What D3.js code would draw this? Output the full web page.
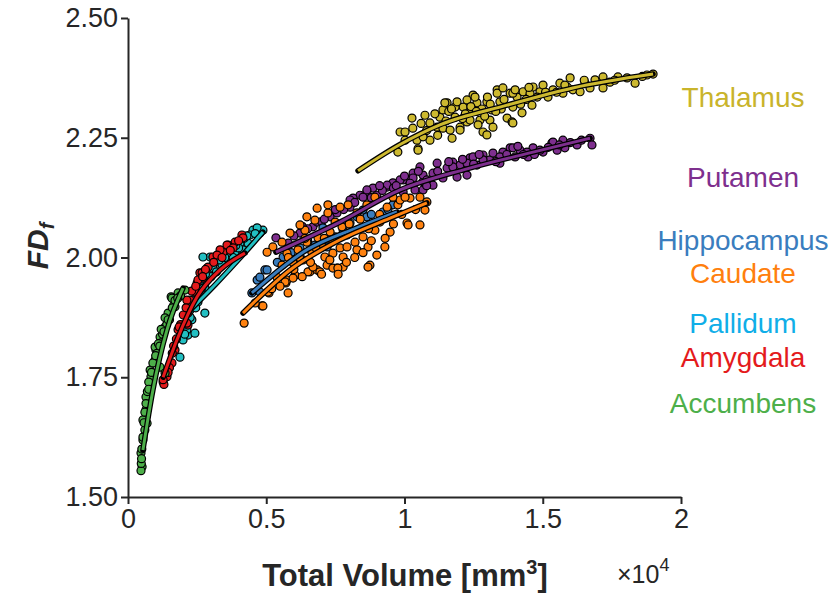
<!DOCTYPE html>
<html>
<head>
<meta charset="utf-8">
<script src="https://cdn.jsdelivr.net/npm/d3@7"></script>
<style>
  body { margin: 0; background: #fff; }
  text { font-family: "Liberation Sans", Arial, Helvetica, sans-serif; }
</style>
</head>
<body>
<svg id="chart" width="837" height="594"></svg>
<script>
// x in units of 10^4 mm^3, y = FD_f
const xTicks = [0, 0.5, 1, 1.5, 2];
const yTicks = [1.5, 1.75, 2.0, 2.25, 2.5];

const thalamusPts = [
  [1.027,2.291],[0.984,2.262],[1.002,2.262],[0.976,2.220],[1.049,2.227],[1.045,2.245],[1.067,2.256],
  [1.074,2.297],[1.092,2.245],[1.118,2.272],[1.128,2.293],[1.139,2.308],[1.154,2.323],[1.172,2.249],
  [1.183,2.293],[1.201,2.272],[1.212,2.314],[1.226,2.283],[1.237,2.302],[1.248,2.339],[1.262,2.323],
  [1.273,2.287],[1.284,2.262],[1.298,2.256],[1.309,2.287],[1.316,2.308],[1.320,2.272],[1.335,2.350],
  [1.345,2.325],[1.371,2.291],[1.382,2.343],[1.389,2.283],[1.392,2.314],[1.407,2.335],[1.425,2.302],
  [1.429,2.346],[1.454,2.343],[1.461,2.318],[1.465,2.356],[1.490,2.346],[1.501,2.360],[1.519,2.335],
  [1.537,2.350],[1.562,2.364],[1.573,2.343],[1.599,2.375],[1.609,2.350],[1.635,2.346],[1.653,2.364],
  [1.671,2.354],[1.689,2.371],[1.718,2.377],[1.718,2.354],[1.743,2.366],[1.772,2.377],[1.805,2.375],
  [1.834,2.364],[1.877,2.381],[1.899,2.383],
  [1.002,2.245],[1.049,2.224],[1.067,2.252],[1.092,2.281],[1.139,2.270],[1.146,2.323],[1.165,2.266],
  [1.183,2.314],[1.201,2.266],[1.226,2.329],[1.237,2.287],[1.255,2.335],[1.266,2.277],[1.298,2.325],
  [1.335,2.343],[1.356,2.354],[1.392,2.343],[1.392,2.281],
  [1.110,2.300],[1.160,2.305],[1.190,2.325],[1.220,2.300],[1.280,2.310],[1.300,2.335],[1.350,2.310],
  [1.420,2.320],[1.440,2.330],[1.480,2.335],[1.550,2.345],[1.590,2.355],
  [1.030,2.270],[1.060,2.280],[1.080,2.265],[1.120,2.255],[1.150,2.285],[1.170,2.310],[1.210,2.290],
  [1.240,2.315],[1.260,2.305],[1.290,2.295],[1.310,2.320],[1.330,2.305],[1.360,2.330],[1.400,2.350],
  [1.450,2.355],[1.510,2.345],[1.580,2.360],[1.650,2.370],[1.760,2.370],[1.860,2.378]
];
const putamenPts = [
  [1.118,2.197],[1.154,2.187],[1.175,2.199],[1.201,2.193],[1.226,2.172],[1.237,2.208],[1.262,2.193],
  [1.284,2.214],[1.309,2.204],[1.320,2.218],[1.345,2.197],[1.356,2.220],[1.382,2.229],[1.400,2.210],
  [1.418,2.224],[1.447,2.210],[1.465,2.229],[1.501,2.220],[1.533,2.239],[1.552,2.224],[1.573,2.245],
  [1.580,2.229],[1.624,2.235],[1.671,2.249],[1.678,2.235],[1.056,2.189],[1.031,2.176],[1.009,2.162],
  [1.067,2.158],[1.103,2.151],[1.139,2.166],[1.190,2.168],[0.995,2.137],[1.038,2.141],[1.067,2.141],
  [1.537,2.241],[1.490,2.224],[1.443,2.220],[1.392,2.229],[1.345,2.210],[1.284,2.204],[1.248,2.210],
  [1.226,2.197],[1.175,2.189],[1.103,2.176],[1.067,2.172],[1.031,2.166],[0.995,2.162],[0.958,2.156],
  [0.937,2.147],[0.886,2.145],[0.864,2.137],[0.839,2.130],[0.814,2.124],[0.803,2.120],
  [0.535,2.041],[0.622,2.051],[0.669,2.064],[0.731,2.085],[0.756,2.093],[0.803,2.105],[0.850,2.126],
  [0.864,2.141],[0.937,2.151],[0.984,2.162],[1.081,2.162],[0.684,2.074],
  [0.580,2.030],[0.650,2.060],[0.700,2.075],[0.780,2.100],[0.900,2.130],[0.920,2.140],[0.960,2.145],[1.020,2.155],
  [0.600,2.045],[0.630,2.065],[0.710,2.080],[0.750,2.100],[0.820,2.115],[0.880,2.125],[0.910,2.150],
  [0.970,2.150],[1.000,2.170],[1.050,2.180],[1.080,2.150],[1.120,2.180],[1.160,2.200],[1.210,2.205],
  [1.250,2.195],[1.270,2.215],[1.330,2.200],[1.370,2.215],[1.410,2.232],[1.430,2.215],[1.470,2.215],
  [1.520,2.230],[1.560,2.235],[1.600,2.240],[1.640,2.245]
];
const hippocampusPts = [
  [0.448,1.926],[0.467,1.953],[0.477,1.928],[0.477,1.959],[0.495,1.974],[0.503,1.974],[0.561,2.001],
  [0.622,2.020],[0.676,2.026],[0.720,2.022],[0.749,2.043],[0.778,2.057],[0.803,2.072],[0.828,2.085],
  [0.850,2.099],[0.792,2.047],[0.922,2.095],[0.958,2.110],[0.864,2.085],[0.705,2.062],
  [0.540,1.990],[0.590,2.010],[0.650,2.035],[0.690,2.040],[0.880,2.090],[0.940,2.100],[0.600,1.995]
];
const caudatePts = [
  [0.420,1.863],[0.485,1.899],[0.510,1.926],[0.579,1.926],[0.571,1.947],[0.539,1.959],[0.604,1.963],
  [0.557,1.984],[0.597,1.989],[0.633,1.995],[0.658,1.970],[0.684,1.974],[0.720,1.984],[0.756,1.978],
  [0.778,1.980],[0.712,2.001],[0.741,2.009],[0.767,2.020],[0.702,2.022],[0.665,2.011],[0.647,2.032],
  [0.687,2.041],[0.731,2.053],[0.615,2.016],[0.575,2.009],[0.640,2.057],[0.676,2.078],[0.723,2.093],
  [0.749,2.074],[0.774,2.064],[0.803,2.051],[0.821,2.032],[0.850,2.043],[0.868,2.022],[0.875,1.984],
  [0.929,2.022],[0.828,2.016],[0.792,2.022],[0.893,2.057],[0.911,2.074],[0.948,2.053],[0.937,2.105],
  [0.976,2.110],[0.984,2.120],[1.009,2.072],[1.056,2.068],[1.074,2.099],[1.081,2.116],[1.020,2.124],
  [0.958,2.126],[0.893,2.126],[0.864,2.110],[0.828,2.093],[0.796,2.110],[0.767,2.105],[0.723,2.110],
  [0.684,2.103],[0.647,2.085],[0.622,2.068],[0.586,2.051],[0.557,2.032],[0.524,2.022],[0.503,2.011],
  [0.506,1.928],[0.575,1.953],[0.488,1.899],[0.568,1.949],[0.597,1.957],[0.651,1.970],[0.694,1.970],
  [0.669,1.980],[0.741,1.978],[0.759,1.978],[0.778,2.001],[0.868,1.980],[1.013,2.068],[1.002,2.126],
  [1.056,2.126],
  [0.600,1.975],[0.630,1.960],[0.660,1.990],[0.700,1.965],[0.730,1.995],[0.760,1.965],[0.790,1.990],
  [0.820,2.000],[0.850,2.010],[0.880,2.035],[0.900,2.005],[0.930,2.040],[0.960,2.070],[0.990,2.090],
  [1.040,2.100],[0.550,1.940],[0.520,1.935],[0.620,2.000],[0.680,2.020],[0.710,2.040],[0.740,2.035],
  [0.800,2.070],[0.840,2.080],[0.870,2.060],[0.910,2.090],[0.640,2.040],[0.580,2.000],[0.460,1.905]
];
const pallidumPts = [
  [0.452,2.057],[0.477,2.051],[0.488,2.057],[0.467,2.062],[0.441,2.047],[0.434,2.030],[0.405,2.030],
  [0.387,2.011],[0.416,2.016],[0.369,2.020],[0.344,2.011],[0.358,1.995],[0.325,1.991],[0.297,2.001],
  [0.307,1.978],[0.286,1.978],[0.271,1.959],[0.289,1.957],[0.260,1.943],[0.278,1.938],[0.250,1.928],
  [0.235,1.911],[0.253,1.907],[0.224,1.890],[0.231,1.870],[0.213,1.855],[0.217,1.838],[0.271,2.001],
  [0.213,1.849],[0.199,1.828],[0.188,1.792],[0.278,1.884],[0.242,1.842],
  [0.320,1.970],[0.340,1.985],[0.380,2.000],[0.400,2.020],[0.420,2.040],[0.300,1.960],[0.260,1.920],[0.245,1.895],
  [0.330,1.995],[0.360,2.010],[0.390,2.025],[0.430,2.045],[0.460,2.050],[0.280,1.965],[0.265,1.935],
  [0.225,1.875],[0.205,1.840],[0.350,2.000]
];
const amygdalaPts = [
  [0.412,2.047],[0.387,2.032],[0.362,2.026],[0.344,2.011],[0.333,2.016],[0.307,2.001],[0.260,1.968],
  [0.271,1.957],[0.250,1.947],[0.242,1.928],[0.224,1.911],[0.217,1.884],[0.217,1.859],[0.358,2.026],
  [0.416,2.041],[0.322,2.005],[0.268,1.968],[0.253,1.953],[0.213,1.911],[0.213,1.863],[0.181,1.849],
  [0.170,1.807],[0.159,1.780],[0.141,1.751],[0.127,1.740],[0.130,1.735],[0.127,1.745],
  [0.290,1.980],[0.280,1.975],[0.200,1.880],[0.190,1.860],[0.175,1.830],[0.160,1.800],[0.150,1.770],
  [0.230,1.930],[0.380,2.020],[0.400,2.035],
  [0.310,1.990],[0.340,2.000],[0.370,2.015],[0.270,1.960],[0.245,1.940],[0.210,1.895],[0.185,1.855],
  [0.165,1.815],[0.145,1.760]
];
const accumbensPts = [
  [0.206,1.932],[0.181,1.926],[0.156,1.918],[0.170,1.897],[0.145,1.884],[0.134,1.855],[0.116,1.834],
  [0.119,1.822],[0.101,1.807],[0.098,1.786],[0.116,1.771],[0.083,1.751],[0.080,1.730],[0.065,1.709],
  [0.065,1.682],[0.054,1.661],[0.061,1.640],[0.054,1.619],[0.047,1.592],[0.051,1.563],[0.159,1.915],
  [0.134,1.874],[0.098,1.813],[0.080,1.765],[0.061,1.677],[0.069,1.654],[0.054,1.625],[0.134,1.759],
  [0.047,1.555],[0.048,1.570],[0.049,1.580],[0.050,1.600],[0.190,1.920],[0.165,1.900],[0.150,1.870],
  [0.125,1.840],[0.110,1.820],[0.090,1.780],[0.070,1.720],[0.075,1.740],[0.140,1.860],[0.170,1.910],
  [0.120,1.850],[0.105,1.800],
  [0.180,1.915],[0.160,1.895],[0.145,1.870],[0.130,1.845],[0.115,1.815],[0.100,1.795],[0.085,1.760],
  [0.075,1.725],[0.065,1.695],[0.058,1.655]
];

// fitted curves
const thalamusFit = [[0.832,2.181],[0.984,2.236],[1.128,2.277],[1.371,2.318],[1.609,2.354],[1.899,2.383]];
const putamenFit = [[0.535,2.011],[0.767,2.074],[0.984,2.141],[1.226,2.185],[1.465,2.220],[1.671,2.249]];
const hippocampusFit = [[0.448,1.926],[0.647,2.016],[0.828,2.062],[0.973,2.095]];
const caudateFit = [[0.416,1.884],[0.586,1.974],[0.767,2.037],[0.948,2.082],[1.081,2.114]];
const pallidumFit = [[0.224,1.890],[0.315,1.943],[0.405,1.999],[0.488,2.053]];
const amygdalaFit = [[0.127,1.750],[0.177,1.828],[0.250,1.918],[0.333,1.974],[0.423,2.009]];
const accumbensFit = [[0.054,1.598],[0.090,1.723],[0.141,1.849],[0.199,1.936]];

const names = ["Thalamus", "Putamen", "Hippocampus", "Caudate", "Pallidum", "Amygdala", "Accumbens"];
const pointColors = ["#CDB930", "#7E2F8E", "#3A7DBE", "#FF8210", "#22BFC2", "#E41A1C", "#4DAF4A"];
const textColors = ["#C9B42B", "#7E2F8E", "#3A7DBE", "#FF7F0E", "#10AEE8", "#E41A1C", "#4DAF4A"];
const allPts = [thalamusPts, putamenPts, hippocampusPts, caudatePts, pallidumPts, amygdalaPts, accumbensPts];
const allFits = [thalamusFit, putamenFit, hippocampusFit, caudateFit, pallidumFit, amygdalaFit, accumbensFit];

const labelX = 743;
const labelBaselines = [107, 187, 250, 283, 333, 367, 413];

const svg = d3.select("#chart");
const x = d3.scaleLinear().domain([0, 2]).range([128, 681]);
const y = d3.scaleLinear().domain([1.5, 2.5]).range([497, 18]);
const axisColor = "#262626";

// scatter
names.forEach((n, i) => {
  svg.append("g")
    .selectAll("circle")
    .data(allPts[i])
    .join("circle")
    .attr("cx", d => x(d[0]))
    .attr("cy", d => y(d[1]))
    .attr("r", 4)
    .attr("fill", pointColors[i])
    .attr("stroke", "#000")
    .attr("stroke-width", 1.2);
});

// fit lines (black outline under coloured line)
const line = d3.line().x(d => x(d[0])).y(d => y(d[1])).curve(d3.curveMonotoneX);
names.forEach((n, i) => {
  svg.append("path")
    .attr("d", line(allFits[i]))
    .attr("fill", "none")
    .attr("stroke", "#000")
    .attr("stroke-width", 5.5)
    .attr("stroke-linecap", "round");
  svg.append("path")
    .attr("d", line(allFits[i]))
    .attr("fill", "none")
    .attr("stroke", pointColors[i])
    .attr("stroke-width", 3);
});

// axes
const xAxis = svg.append("g")
  .attr("transform", "translate(0,497)")
  .call(d3.axisBottom(x).tickValues(xTicks).tickFormat(d3.format("")).tickSize(7).tickSizeOuter(0));
const yAxis = svg.append("g")
  .attr("transform", "translate(128,0)")
  .call(d3.axisLeft(y).tickValues(yTicks).tickFormat(d3.format(".2f")).tickSize(7).tickSizeOuter(0));

[xAxis, yAxis].forEach(a => {
  a.select(".domain").attr("stroke", axisColor).attr("stroke-width", 2);
  a.selectAll(".tick line").attr("stroke", axisColor).attr("stroke-width", 2);
  a.selectAll(".tick text")
    .attr("fill", axisColor)
    .style("font-size", "27px")
    .style("font-family", "'Liberation Sans', Arial, sans-serif");
});
xAxis.selectAll(".tick text").attr("dy", "0.71em").attr("y", 12);
yAxis.selectAll(".tick text").attr("x", -10);

// axis labels
const xl = svg.append("text")
  .attr("x", 405).attr("y", 586)
  .attr("text-anchor", "middle")
  .attr("fill", axisColor)
  .style("font-size", "31px")
  .style("font-weight", "bold");
xl.append("tspan").text("Total Volume [mm");
xl.append("tspan").text("3").attr("dy", -12).style("font-size", "20px");
xl.append("tspan").text("]").attr("dy", 12);

const ex = svg.append("text")
  .attr("x", 617).attr("y", 583)
  .attr("fill", axisColor)
  .style("font-size", "25px");
ex.append("tspan").text("\u00d710");
ex.append("tspan").text("4").attr("dy", -12).style("font-size", "18px");

const yl = svg.append("text")
  .attr("transform", "translate(48,246) rotate(-90)")
  .attr("text-anchor", "middle")
  .attr("fill", axisColor)
  .style("font-size", "30px")
  .style("font-weight", "bold")
  .style("font-style", "italic");
yl.append("tspan").text("FD");
yl.append("tspan").text("f").attr("dy", 6).style("font-size", "20px");

// labels
names.forEach((n, i) => {
  svg.append("text")
    .attr("x", labelX)
    .attr("y", labelBaselines[i])
    .attr("text-anchor", "middle")
    .attr("fill", textColors[i])
    .style("font-size", "28px")
    .text(n);
});
</script>
</body>
</html>
